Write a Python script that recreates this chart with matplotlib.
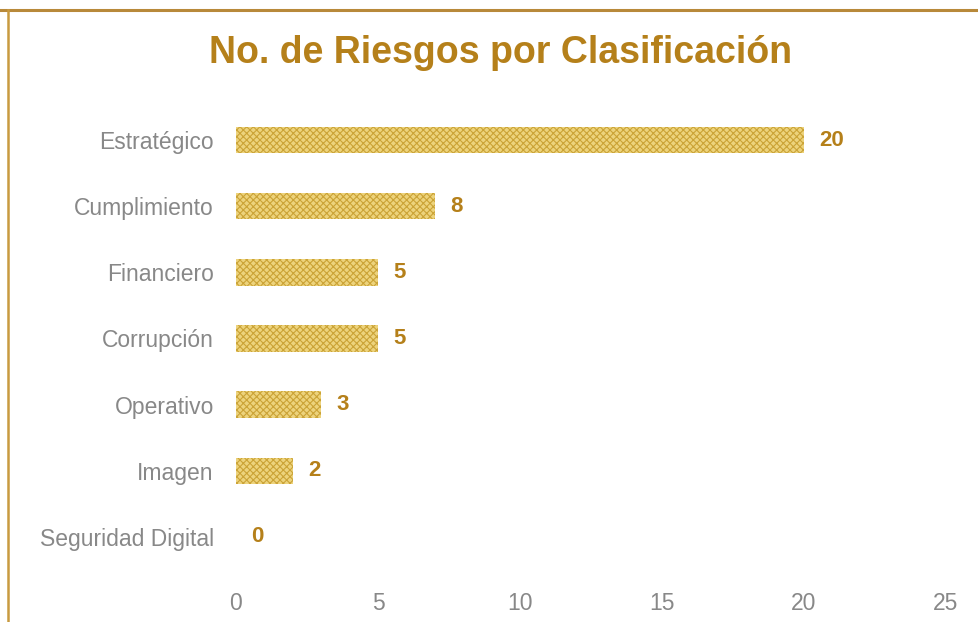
import matplotlib.pyplot as plt

categories = ["Estratégico", "Cumplimiento", "Financiero", "Corrupción",
              "Operativo", "Imagen", "Seguridad Digital"]
# bar lengths as drawn in the picture, and the numbers printed beside them
bar_lengths = [20, 7, 5, 5, 3, 2, 0]
value_labels = ["20", "8", "5", "5", "3", "2", "0"]
xticks = [0, 5, 10, 15, 20, 25]

gold = "#B5801A"
plt.rcParams['font.family'] = ['Liberation Sans', 'DejaVu Sans']
plt.rcParams['hatch.color'] = "#CBA336"
plt.rcParams['hatch.linewidth'] = 0.8

fig = plt.figure(figsize=(9.79, 6.22), dpi=100)
ax = fig.add_axes([236 / 979, 1 - 570 / 622, (946 - 236) / 979, 463 / 622])

pos = list(range(len(categories)))
ax.barh(pos, bar_lengths, height=0.4, color="#EDD37C", hatch="xxxxx", linewidth=0)
for p, v, lab in zip(pos, bar_lengths, value_labels):
    ax.text(v + 0.55, p, lab, va="center", ha="left", fontsize=16,
            fontweight="bold", color=gold)

ax.set_xlim(0, 25)
ax.set_ylim(len(categories) - 0.5, -0.5)
ax.set_yticks(pos)
ax.set_yticklabels(categories)
ax.set_xticks(xticks)
ax.tick_params(axis="both", length=0, labelsize=16.5, labelcolor="#888888")
ax.tick_params(axis="y", pad=16)
ax.tick_params(axis="x", pad=16)
for s in ax.spines.values():
    s.set_visible(False)

fig.text(0.511, 1 - 53 / 622, "No. de Riesgos por Clasificación", ha="center",
         va="center", fontsize=27, fontweight="bold", color=gold)

# scanned frame: top and left border lines
fig.add_artist(plt.Line2D([0, 1], [1 - 10 / 622] * 2, color="#B8893A", lw=2.2,
                          transform=fig.transFigure))
fig.add_artist(plt.Line2D([8 / 979] * 2, [0, 1 - 10 / 622], color="#C89A40", lw=1.8,
                          transform=fig.transFigure))

fig.savefig("out.png", dpi=100)
